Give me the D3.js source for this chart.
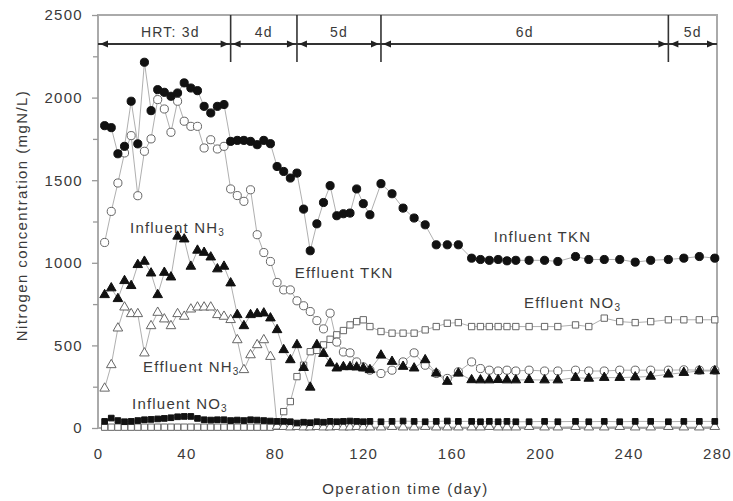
<!DOCTYPE html>
<meta charset="utf-8">

<!-- Load d3.js -->
<script src="https://d3js.org/d3.v7.min.js"></script>

<style>
  body { margin: 0; background: #fff; }
  text { font-family: "Liberation Sans", Arial, sans-serif; fill: #3a3a3a; }
</style>

<div id="my_dataviz"></div>

<script>

// sampling days (operation time, day)
var days = [3,6,9,12,15,18,21,24,27,30,33,36,39,42,45,48,51,54,57,60,
  63,66,69,72,75,78,81,84,87,90,93,96,99,102,105,108,111,114,117,120,123,
  128,133,138,143,148,153,158,163,
  169,173,177,181,185,189,
  195,202,208,216,222,229,236,243,250,258,265,272,279];

// nitrogen concentrations (mg N/L)
var influentTKN = [1830,1818,1660,1705,1978,1720,2214,1921,2048,2032,2008,2028,2089,2058,2042,1947,1907,1947,1958,1735,
  1741,1741,1735,1715,1741,1721,1583,1553,1513,1543,1325,1073,1236,1365,1467,1285,1297,1301,1447,1358,1291,
  1479,1418,1331,1271,1230,1109,1109,1109,
  1028,1020,1015,1020,1012,1015,
  1015,1015,1008,1038,1020,1020,1020,1004,1015,1020,1028,1038,1028];

var effluentTKN = [1123,1311,1483,1665,1770,1406,1675,1750,1988,1931,1790,1978,1857,1826,1826,1695,1745,1689,1705,1447,
  1407,1372,1442,1170,1062,1008,881,836,836,770,740,705,650,600,695,520,460,455,400,370,350,
  330,350,400,455,380,330,300,340,
  400,360,350,345,350,345,
  350,345,345,350,345,345,350,350,350,350,352,350,350];

var influentNH3 = [806,847,782,891,861,988,1008,937,806,941,913,1160,1143,978,1075,1062,1034,962,978,877,
  685,618,685,691,695,665,594,473,412,503,365,246,503,450,392,362,370,370,368,362,352,
  440,402,372,362,412,331,281,331,
  291,290,290,292,290,290,
  292,290,290,305,300,305,305,308,312,325,335,345,345];

var effluentNH3 = [240,382,604,731,691,691,453,618,699,659,618,691,675,719,731,731,731,685,675,655,
  533,352,442,503,533,432,10,8,5,8,5,5,8,5,5,8,5,5,8,5,5,
  5,8,5,5,8,5,5,5,
  5,5,8,5,5,5,
  8,5,5,8,5,5,8,5,5,8,5,5,8];

var influentNO3 = [40,60,45,38,40,45,50,52,55,58,62,68,70,70,58,50,48,50,50,45,
  48,45,50,48,45,42,40,40,38,30,35,32,38,35,40,38,40,42,40,38,40,
  38,40,42,40,38,40,42,40,
  40,38,40,38,40,38,
  38,40,38,40,38,40,38,40,40,38,40,40,40];

var effluentNO3 = [5,5,5,5,5,5,5,5,5,5,5,5,5,5,5,5,5,5,5,5,
  5,5,5,5,5,5,10,99,160,311,380,462,470,503,537,564,590,624,644,655,614,
  584,574,574,574,594,614,634,638,
  614,614,614,614,614,614,
  614,614,614,624,614,665,644,638,644,655,655,655,655];

// HRT periods
var hrtBreaks = [0, 60, 90, 128, 258, 280];
var hrtLabels = ["HRT: 3d", "4d", "5d", "6d", "5d"];

// axis ticks
var xTicks = [0, 40, 80, 120, 160, 200, 240, 280];
var yTicks = [0, 500, 1000, 1500, 2000, 2500];
var yMinorTicks = [250, 750, 1250, 1750, 2250];

// set the dimensions and margins of the graph
var margin = {top: 15, right: 16, bottom: 73, left: 98},
  width = 733 - margin.left - margin.right,
  height = 501 - margin.top - margin.bottom;

var svg = d3.select("#my_dataviz")
.append("svg")
  .attr("width", width + margin.left + margin.right)
  .attr("height", height + margin.top + margin.bottom)
.append("g")
  .attr("transform", "translate(" + margin.left + "," + margin.top + ")");

var x = d3.scaleLinear().domain([0, 280]).range([0, width]);
var y = d3.scaleLinear().domain([0, 2500]).range([height, 0]);

// frame
svg.append("rect")
  .attr("x", 0).attr("y", 0)
  .attr("width", width).attr("height", height)
  .style("fill", "none")
  .style("stroke", "#aaa")
  .style("stroke-width", 2);

// y axis
var yAxis = svg.append("g")
  .call(d3.axisLeft(y).tickValues(yTicks).tickFormat(d3.format("d")).tickSize(6).tickPadding(9));
yAxis.select(".domain").remove();
yAxis.selectAll("line").style("stroke", "#999").style("stroke-width", 1.3);
yAxis.selectAll("text")
  .style("font-size", "15px")
  .style("letter-spacing", "1.3px")
  .style("fill", "#3a3a3a");

svg.append("g")
  .call(d3.axisLeft(y).tickValues(yMinorTicks).tickSize(5).tickFormat(""))
  .call(function(g) { g.select(".domain").remove(); })
  .selectAll("line").style("stroke", "#999").style("stroke-width", 1.3);

// x axis
var xAxis = svg.append("g")
  .attr("transform", "translate(0," + height + ")")
  .call(d3.axisBottom(x).tickValues(xTicks).tickSize(0).tickPadding(20));
xAxis.select(".domain").remove();
xAxis.selectAll("text")
  .style("font-size", "15px")
  .style("letter-spacing", "1.3px")
  .style("fill", "#3a3a3a");

// axis titles
svg.append("text")
  .attr("transform", "translate(" + (-71) + "," + (height / 2 - 6) + ") rotate(-90)")
  .attr("text-anchor", "middle")
  .style("font-size", "15px")
  .style("letter-spacing", "1.4px")
  .text("Nitrogen concentration (mgN/L)");

svg.append("text")
  .attr("x", width / 2 - 2)
  .attr("y", height + 66)
  .attr("text-anchor", "middle")
  .style("font-size", "15px")
  .style("letter-spacing", "1.5px")
  .text("Operation time (day)");

// HRT bar
var barY = 29;
svg.append("line")
  .attr("x1", x(0)).attr("x2", x(280))
  .attr("y1", barY).attr("y2", barY)
  .style("stroke", "#333").style("stroke-width", 2);

svg.selectAll(".hrtsep")
  .data(hrtBreaks.slice(1, -1))
  .enter()
  .append("line")
    .attr("class", "hrtsep")
    .attr("x1", function(d) { return x(d); })
    .attr("x2", function(d) { return x(d); })
    .attr("y1", 0).attr("y2", 47)
    .style("stroke", "#333").style("stroke-width", 1.6);

// arrow heads at both ends of each period, pointing outward
var arrows = [];
for (var i = 0; i < hrtLabels.length; i++) {
  arrows.push({pos: hrtBreaks[i], dir: -1});
  arrows.push({pos: hrtBreaks[i + 1], dir: 1});
}
svg.selectAll(".arrow")
  .data(arrows)
  .enter()
  .append("path")
    .attr("class", "arrow")
    .attr("d", function(d) {
      var tip = x(d.pos) - d.dir * 2;
      var back = tip - d.dir * 8;
      return "M" + tip + "," + barY + "L" + back + "," + (barY - 3.5) + "L" + back + "," + (barY + 3.5) + "Z";
    })
    .style("fill", "#222");

svg.selectAll(".hrtlabel")
  .data(hrtLabels)
  .enter()
  .append("text")
    .attr("class", "hrtlabel")
    .attr("x", function(d, i) { return x((hrtBreaks[i] + hrtBreaks[i + 1]) / 2) + (i == 0 ? 6 : 0); })
    .attr("y", 22)
    .attr("text-anchor", "middle")
    .style("font-size", "14px")
    .style("letter-spacing", "1.2px")
    .text(function(d) { return d; });

// series
var series = [
  {vals: effluentNO3, type: d3.symbolSquare, size: 40, filled: false},
  {vals: effluentNH3, type: d3.symbolTriangle, size: 40, filled: false},
  {vals: effluentTKN, type: d3.symbolCircle, size: 52, filled: false},
  {vals: influentNO3, type: d3.symbolSquare, size: 32, filled: true},
  {vals: influentNH3, type: d3.symbolTriangle, size: 40, filled: true},
  {vals: influentTKN, type: d3.symbolCircle, size: 52, filled: true}
];

var line = d3.line()
  .defined(function(d) { return d != null; })
  .x(function(d, i) { return x(days[i]); })
  .y(function(d) { return y(d); });

// connecting lines first
svg.selectAll(".serieline")
  .data(series)
  .enter()
  .append("path")
    .attr("class", "serieline")
    .attr("d", function(s) { return line(s.vals); })
    .style("fill", "none")
    .style("stroke", "#9a9a9a")
    .style("stroke-width", 0.8);

// markers
series.forEach(function(s) {
  var sym = d3.symbol().type(s.type).size(s.size);
  svg.append("g")
    .selectAll("path")
    .data(s.vals)
    .enter()
    .append("path")
      .attr("d", sym)
      .attr("transform", function(d, i) { return "translate(" + x(days[i]) + "," + y(d) + ")"; })
      .style("fill", s.filled ? "#111" : "#fff")
      .style("stroke", s.filled ? "#111" : "#666")
      .style("stroke-width", 1);
});

// series labels (day, concentration of the text start)
var labels = [
  {name: "Influent NH", sub: "3", day: 14.5, val: 1182},
  {name: "Effluent TKN", sub: "", day: 89, val: 909},
  {name: "Influent TKN", sub: "", day: 179, val: 1127},
  {name: "Effluent NO", sub: "3", day: 192.7, val: 727},
  {name: "Effluent NH", sub: "3", day: 20.4, val: 339},
  {name: "Influent NO", sub: "3", day: 15.4, val: 115}
];

var lab = svg.selectAll(".serielabel")
  .data(labels)
  .enter()
  .append("text")
    .attr("class", "serielabel")
    .attr("x", function(d) { return x(d.day); })
    .attr("y", function(d) { return y(d.val); })
    .style("font-size", "15px")
    .style("letter-spacing", "1.2px");

lab.append("tspan").text(function(d) { return d.name; });
lab.append("tspan")
  .attr("dy", 3)
  .style("font-size", "10px")
  .text(function(d) { return d.sub; });

</script>
